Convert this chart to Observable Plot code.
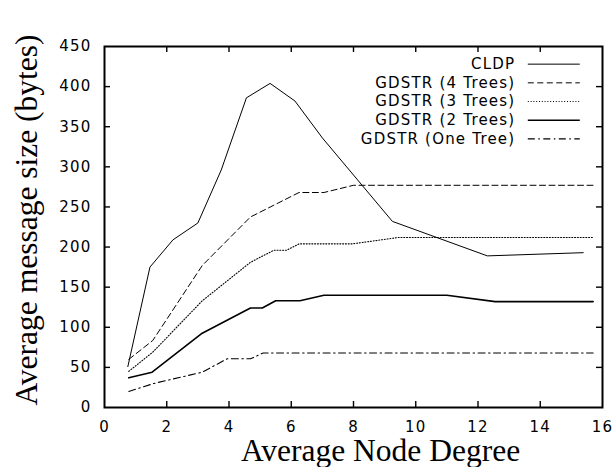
<!DOCTYPE html>
<html>
<head>
<meta charset="utf-8">
<script src="https://cdn.jsdelivr.net/npm/d3@7"></script>
<script src="https://cdn.jsdelivr.net/npm/@observablehq/plot@0.6"></script>
<style>
  html, body { margin: 0; padding: 0; background: white; }
  g[font-family="DejaVu Sans"] text { letter-spacing: 1.2px; }
</style>
</head>
<body>
<div id="chart"></div>
<script>
// ---- Data ----
const seriesNames = ["CLDP", "GDSTR (4 Trees)", "GDSTR (3 Trees)", "GDSTR (2 Trees)", "GDSTR (One Tree)"];

const cldpX = [0.75, 1.46, 2.2, 3.0, 3.75, 4.56, 5.32, 6.12, 7.0, 9.25, 12.3, 15.38];
const cldpY = [51, 175, 209, 230, 296, 386, 404, 382, 336, 232, 189, 193];

const tree4X = [0.78, 1.55, 3.14, 4.69, 6.25, 7.05, 8.0, 15.7];
const tree4Y = [60, 83.5, 177, 237.5, 268, 268, 277, 277];

const tree3X = [0.78, 1.55, 3.14, 4.69, 5.44, 5.85, 6.25, 7.96, 9.46, 15.7];
const tree3Y = [45, 69, 133, 181, 196, 196, 204, 204, 212, 212];

const tree2X = [0.78, 1.53, 3.14, 4.69, 5.07, 5.5, 6.28, 7.05, 11.0, 12.55, 15.7];
const tree2Y = [37, 44, 92.6, 124, 124, 133, 133, 140, 140, 132, 132];

const tree1X = [0.78, 1.59, 3.14, 3.94, 4.69, 5.1, 15.7];
const tree1Y = [20, 30, 44, 60.7, 60.7, 68, 68];

const xTicks = [0, 2, 4, 6, 8, 10, 12, 14, 16];
const yTicks = [0, 50, 100, 150, 200, 250, 300, 350, 400, 450];

const xTitle = "Average Node Degree";
const yTitle = "Average message size (bytes)";

// ---- Build tables ----
const seriesXs = [cldpX, tree4X, tree3X, tree2X, tree1X];
const seriesYs = [cldpY, tree4Y, tree3Y, tree2Y, tree1Y];
const tables = seriesNames.map((name, s) =>
  seriesXs[s].map((x, i) => ({series: name, x, y: seriesYs[s][i]})));

// ---- Styles ----
const styles = [
  {strokeWidth: 1, strokeDasharray: null},
  {strokeWidth: 1, strokeDasharray: "6,3.5"},
  {strokeWidth: 1.1, strokeDasharray: "1,1.8"},
  {strokeWidth: 1.6, strokeDasharray: null},
  {strokeWidth: 1.1, strokeDasharray: "7,3.5,1.5,3.5"}
];

// legend layout (data units)
const legendTextX = 13.2, legendLineX1 = 13.6, legendLineX2 = 15.27;
const legendTop = 428, legendStep = 23.3;

const sansFont = "DejaVu Sans";
const serifFont = "'Liberation Serif', 'Times New Roman', serif";

const innerXTicks = xTicks.filter(t => t !== xTicks[0] && t !== xTicks[xTicks.length - 1]);
const innerYTicks = yTicks.filter(t => t !== yTicks[0] && t !== yTicks[yTicks.length - 1]);

const marks = [];
// series lines
tables.forEach((tbl, s) => {
  const st = styles[s];
  const opts = {x: "x", y: "y", stroke: "black", strokeWidth: st.strokeWidth, strokeLinejoin: "miter"};
  if (st.strokeDasharray) opts.strokeDasharray = st.strokeDasharray;
  marks.push(Plot.line(tbl, opts));
});
// legend
marks.push(Plot.text(seriesNames, {
  x: () => legendTextX, y: (d, i) => legendTop - i * legendStep, text: d => d,
  textAnchor: "end", lineAnchor: "middle", fontSize: 15, fontFamily: sansFont, fill: "black"
}));
seriesNames.forEach((name, s) => {
  const st = styles[s];
  const opts = {
    x1: () => legendLineX1, x2: () => legendLineX2,
    y1: () => legendTop - s * legendStep, y2: () => legendTop - s * legendStep,
    stroke: "black", strokeWidth: st.strokeWidth
  };
  if (st.strokeDasharray) opts.strokeDasharray = st.strokeDasharray;
  marks.push(Plot.link([name], opts));
});
// inward ticks
marks.push(Plot.tickX(innerXTicks, {x: d => d, insetTop: 355, stroke: "black", strokeWidth: 1.4}));
marks.push(Plot.tickX(innerXTicks, {x: d => d, insetBottom: 355, stroke: "black", strokeWidth: 1.4}));
marks.push(Plot.tickY(innerYTicks, {y: d => d, insetRight: 492, stroke: "black", strokeWidth: 1.4}));
marks.push(Plot.tickY(innerYTicks, {y: d => d, insetLeft: 492, stroke: "black", strokeWidth: 1.4}));
// frame
marks.push(Plot.frame({stroke: "black", strokeWidth: 2}));
// tick labels
marks.push(Plot.axisX({ticks: xTicks, tickSize: 0, tickPadding: 14, label: null, fontSize: 15, fontFamily: sansFont}));
marks.push(Plot.axisY({ticks: yTicks, tickSize: 0, tickPadding: 13, label: null, fontSize: 15, fontFamily: sansFont}));
// axis titles
marks.push(Plot.text([xTitle], {
  frameAnchor: "bottom", text: d => d, dx: 27, dy: 53, lineAnchor: "bottom", textAnchor: "middle",
  fontSize: 31.5, fontFamily: serifFont, fill: "black"
}));
marks.push(Plot.text([yTitle], {
  frameAnchor: "left", text: d => d, rotate: -90, dx: -68, dy: -7, lineAnchor: "bottom", textAnchor: "middle",
  fontSize: 31.5, fontFamily: serifFont, fill: "black"
}));

const chart = Plot.plot({
  width: 616,
  height: 467,
  marginLeft: 104,
  marginRight: 14,
  marginTop: 46,
  marginBottom: 60,
  x: {domain: [0, 16], axis: null},
  y: {domain: [0, 450], axis: null},
  style: {background: "white", color: "black", fontFamily: sansFont, fontSize: "15px", overflow: "visible"},
  marks
});
document.getElementById("chart").appendChild(chart);
</script>
</body>
</html>
